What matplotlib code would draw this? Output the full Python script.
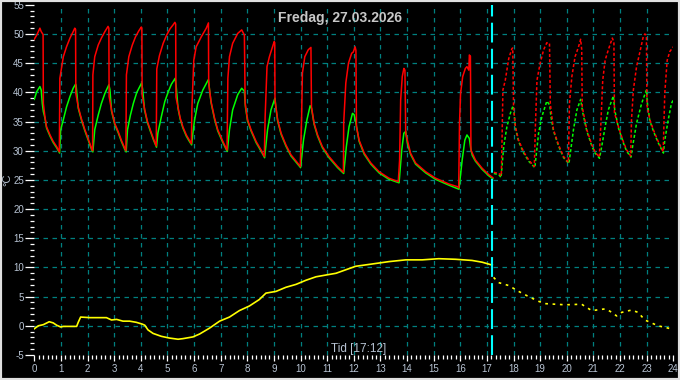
import matplotlib
matplotlib.use("Agg")
import matplotlib.pyplot as plt
from matplotlib.patches import Rectangle
from matplotlib.ticker import MultipleLocator

# ---- data (hours of day, deg C) ----
title_text = "Fredag, 27.03.2026"
time_text = "Tid [17:12]"
now_hour = 17.2

x_ticks = list(range(0, 25))
y_ticks = list(range(-5, 56, 5))

# red: measured until now
red_t = [0.00, 0.09, 0.21, 0.26, 0.33, 0.34, 0.40, 0.46, 0.59, 0.71, 0.84, 0.94,
         0.96, 1.03, 1.09, 1.21, 1.34, 1.46, 1.52, 1.55, 1.56, 1.65, 1.78, 1.90, 2.02, 2.15, 2.19,
         2.20, 2.27, 2.40, 2.52, 2.65, 2.77, 2.80, 2.81, 2.90, 3.02, 3.15, 3.27, 3.40, 3.44,
         3.46, 3.55, 3.68, 3.80, 3.92, 4.02, 4.04, 4.05, 4.14, 4.25, 4.37, 4.48, 4.58,
         4.60, 4.70, 4.84, 4.97, 5.10, 5.22, 5.28, 5.31, 5.32, 5.40, 5.48, 5.58, 5.71, 5.81, 5.90,
         5.92, 5.99, 6.08, 6.27, 6.46, 6.54, 6.55, 6.64, 6.77, 6.89, 7.08, 7.21, 7.24,
         7.27, 7.33, 7.45, 7.64, 7.79, 7.89, 7.92, 8.01, 8.14, 8.33, 8.52, 8.64,
         8.67, 8.74, 8.83, 8.95, 9.01, 9.03, 9.04, 9.14, 9.27, 9.45, 9.64, 9.89, 9.99,
         10.04, 10.07, 10.16, 10.29, 10.39, 10.41, 10.51, 10.64, 10.82, 11.07, 11.39, 11.61,
         11.62, 11.70, 11.80, 11.92, 11.98, 12.05, 12.08, 12.10, 12.20, 12.39, 12.64, 12.95, 13.32, 13.67,
         13.72, 13.76, 13.82, 13.88, 13.92, 13.95, 14.13, 14.32, 14.70, 15.07, 15.57, 15.92, 15.94,
         15.97, 16.01, 16.09, 16.19, 16.25, 16.32, 16.34, 16.38, 16.40, 16.57, 16.82, 17.07, 17.22]
red_v = [49.1, 49.8, 51.0, 50.4, 49.9, 38.1, 35.8, 34.1, 32.7, 31.6, 30.7, 29.8,
         42.4, 44.4, 46.1, 47.8, 49.3, 50.4, 51.0, 50.8, 39.8, 37.5, 35.3, 33.6, 32.1, 30.4, 30.0,
         43.0, 46.1, 48.1, 49.3, 50.4, 51.3, 51.0, 39.3, 37.0, 34.7, 33.3, 31.8, 30.4, 30.0,
         43.0, 46.1, 48.1, 49.5, 50.5, 51.2, 51.0, 39.5, 37.2, 35.0, 33.4, 32.0, 30.8,
         44.0, 46.3, 48.4, 49.8, 50.9, 51.6, 52.0, 51.7, 39.2, 37.4, 35.6, 34.1, 32.7, 31.9, 31.2,
         37.3, 45.5, 47.8, 49.5, 51.0, 51.9, 41.6, 38.4, 35.6, 33.6, 31.6, 30.4, 30.1,
         42.4, 46.1, 48.4, 50.1, 50.7, 49.8, 38.1, 35.3, 33.6, 31.6, 30.1, 29.0,
         35.8, 44.4, 46.1, 47.8, 48.7, 48.5, 38.7, 35.3, 33.0, 31.0, 29.3, 27.9, 27.3,
         35.8, 43.3, 46.1, 47.3, 47.7, 37.5, 34.7, 32.7, 30.7, 29.0, 27.3, 26.3,
         34.7, 41.6, 45.0, 46.7, 46.9, 47.8, 47.2, 34.1, 31.8, 29.6, 27.9, 26.4, 25.3, 24.7,
         28.4, 38.7, 42.7, 44.1, 43.8, 33.0, 29.6, 27.9, 26.4, 25.3, 24.3, 23.8, 23.6,
         34.7, 39.8, 42.7, 44.1, 44.4, 43.8, 46.4, 46.2, 30.1, 28.4, 27.0, 25.9, 25.4]

# green: measured until now
green_t = [0.00, 0.09, 0.21, 0.26, 0.30, 0.34, 0.40, 0.46, 0.59, 0.71, 0.84, 0.95,
           0.99, 1.09, 1.21, 1.34, 1.46, 1.55, 1.57, 1.65, 1.78, 1.90, 2.02, 2.15, 2.20,
           2.27, 2.40, 2.52, 2.65, 2.80, 2.84, 2.90, 3.02, 3.15, 3.27, 3.40, 3.45,
           3.50, 3.61, 3.72, 3.85, 4.03, 4.07, 4.14, 4.25, 4.37, 4.48, 4.59,
           4.64, 4.77, 4.90, 5.04, 5.15, 5.29, 5.33, 5.40, 5.48, 5.58, 5.71, 5.81, 5.91,
           5.95, 6.02, 6.14, 6.33, 6.54, 6.58, 6.64, 6.77, 6.89, 7.08, 7.21, 7.25,
           7.33, 7.45, 7.64, 7.79, 7.89, 7.93, 8.01, 8.14, 8.33, 8.52, 8.65,
           8.76, 8.89, 9.04, 9.07, 9.14, 9.27, 9.45, 9.64, 9.89, 10.00,
           10.11, 10.24, 10.36, 10.41, 10.51, 10.64, 10.82, 11.07, 11.39, 11.62,
           11.72, 11.82, 11.95, 12.01, 12.07, 12.20, 12.39, 12.64, 12.95, 13.32, 13.70,
           13.80, 13.88, 13.95, 14.01, 14.13, 14.32, 14.70, 15.07, 15.57, 15.95,
           16.07, 16.17, 16.25, 16.34, 16.39, 16.45, 16.57, 16.82, 17.07, 17.22]
green_v = [38.8, 40.1, 41.0, 40.4, 38.1, 36.7, 35.6, 33.9, 32.5, 31.4, 30.5, 29.6,
           33.6, 35.3, 37.5, 39.3, 40.7, 41.4, 41.2, 37.3, 35.1, 33.4, 31.9, 30.2, 29.8,
           33.6, 36.1, 38.1, 39.8, 41.3, 40.5, 36.8, 34.5, 33.1, 31.6, 30.2, 29.8,
           33.6, 36.1, 38.1, 40.0, 41.6, 40.5, 37.0, 34.8, 33.2, 31.8, 30.6,
           33.0, 35.8, 38.4, 40.2, 41.4, 42.4, 41.0, 37.2, 35.4, 33.9, 32.5, 31.7, 31.0,
           32.8, 35.3, 38.1, 40.4, 42.2, 40.5, 38.2, 35.4, 33.4, 31.4, 30.2, 29.9,
           33.6, 37.0, 39.6, 40.7, 40.2, 37.5, 35.1, 33.4, 31.4, 29.9, 28.8,
           33.6, 37.0, 39.0, 37.5, 35.1, 32.8, 30.8, 29.1, 27.7, 27.1,
           31.8, 35.3, 37.7, 37.3, 34.5, 32.5, 30.5, 28.8, 27.1, 26.1,
           30.7, 34.1, 36.4, 36.2, 35.0, 31.6, 29.4, 27.7, 26.2, 25.1, 24.5,
           30.1, 33.0, 33.3, 31.3, 29.4, 27.7, 26.2, 25.1, 24.1, 23.4,
           28.4, 31.8, 32.7, 32.1, 30.4, 29.2, 28.2, 26.8, 25.7, 25.2]

# red / green: forecast after now
red_fc_t = [17.26, 17.45, 17.54, 17.57, 17.60, 17.69, 17.82, 17.94, 17.97, 18.00,
            18.07, 18.19, 18.38, 18.57, 18.78,
            18.82, 18.88, 19.00, 19.13, 19.25, 19.35, 19.38, 19.50, 19.69, 19.88, 20.06,
            20.10, 20.19, 20.31, 20.44, 20.52, 20.56, 20.58, 20.75, 20.94, 21.06, 21.22,
            21.27, 21.35, 21.44, 21.56, 21.71, 21.77, 21.79, 21.94, 22.12, 22.25, 22.40,
            22.43, 22.50, 22.62, 22.75, 22.87, 22.93, 22.99, 23.01, 23.12, 23.25, 23.43, 23.62,
            23.68, 23.77, 23.87, 24.00]
red_fc_v = [26.3, 26.1, 25.7, 32.4, 40.4, 42.1, 45.8, 47.5, 47.6, 37.5,
            34.1, 31.8, 29.8, 28.4, 27.3,
            34.1, 42.1, 45.0, 47.3, 48.5, 48.4, 38.1, 33.6, 31.0, 29.0, 28.0,
            38.1, 42.7, 46.1, 47.8, 49.1, 47.3, 37.5, 33.6, 31.0, 29.8, 28.9,
            33.6, 42.1, 45.5, 47.3, 49.3, 48.6, 36.5, 34.1, 31.6, 30.1, 29.1,
            35.3, 40.4, 44.4, 47.0, 49.5, 50.0, 49.8, 37.8, 35.3, 33.6, 31.6, 29.8,
            39.9, 45.5, 47.0, 47.8]
green_fc_t = [17.26, 17.45, 17.53, 17.63, 17.75, 17.88, 17.98, 18.02,
              18.07, 18.19, 18.38, 18.57, 18.80,
              18.94, 19.06, 19.25, 19.36, 19.40, 19.50, 19.69, 19.88, 20.08,
              20.25, 20.38, 20.52, 20.60, 20.75, 20.94, 21.06, 21.23,
              21.31, 21.44, 21.56, 21.75, 21.80, 21.94, 22.12, 22.25, 22.41,
              22.47, 22.62, 22.81, 22.99, 23.03, 23.12, 23.25, 23.43, 23.63,
              23.68, 23.81, 23.93, 24.00]
green_fc_v = [26.1, 25.9, 25.4, 30.7, 34.1, 36.4, 37.7, 36.5,
              33.9, 31.6, 29.6, 28.2, 27.1,
              33.0, 35.8, 38.5, 37.8, 36.0, 33.4, 30.8, 28.8, 27.8,
              33.6, 37.0, 38.8, 36.5, 33.4, 30.8, 29.6, 28.7,
              30.7, 34.1, 37.0, 39.4, 37.0, 33.9, 31.4, 29.9, 28.9,
              30.7, 34.7, 38.1, 40.4, 38.0, 35.1, 33.4, 31.4, 29.6,
              31.8, 35.3, 38.1, 38.7]

# yellow: outdoor temperature
out_t = [0.00, 0.15, 0.34, 0.56, 0.71, 0.84, 0.99, 1.09, 1.59, 1.65, 1.74, 2.09, 2.71,
         2.90, 3.09, 3.33, 3.58, 3.83, 4.05, 4.15, 4.27, 4.46, 4.77, 5.08, 5.40, 5.58,
         5.96, 6.21, 6.58, 6.96, 7.33, 7.70, 8.08, 8.45, 8.70, 9.08, 9.45, 9.83, 10.20,
         10.58, 10.95, 11.33, 11.76, 12.07, 12.70, 13.32, 13.95, 14.57, 15.19, 15.82,
         16.44, 16.82, 17.20]
out_v = [-0.5, 0.0, 0.2, 0.7, 0.5, 0.1, -0.2, -0.1, -0.1, 0.6, 1.5, 1.4, 1.4,
         1.0, 1.1, 0.8, 0.8, 0.6, 0.3, 0.1, -0.7, -1.3, -1.8, -2.1, -2.3, -2.2,
         -1.9, -1.4, -0.4, 0.8, 1.5, 2.6, 3.4, 4.5, 5.6, 5.9, 6.6, 7.1, 7.8,
         8.4, 8.7, 9.0, 9.7, 10.2, 10.6, 11.0, 11.3, 11.3, 11.5, 11.4,
         11.2, 10.9, 10.4]
out_fc_t = [17.25, 17.44, 17.82, 18.19, 18.57, 18.94, 19.19, 19.94, 20.56, 20.69,
            20.94, 21.44, 21.62, 21.87, 22.06, 22.43, 22.68, 22.93, 23.43, 24.00]
out_fc_v = [8.3, 7.4, 6.9, 5.9, 5.0, 4.2, 3.8, 3.6, 3.7, 3.3,
            2.6, 2.9, 2.5, 1.7, 2.3, 2.7, 2.3, 1.0, 0.0, -0.6]

# ---- style ----
plt.rcParams['font.family'] = ['Liberation Sans', 'DejaVu Sans']
plt.rcParams['axes.unicode_minus'] = False

label_col = '#b8c4d4'
grid_col = '#008080'

fig = plt.figure(figsize=(6.8, 3.8), dpi=100, facecolor='black')
ax = fig.add_axes([34.3 / 680, 1 - 355 / 380, 639 / 680, 350.2 / 380])
ax.set_facecolor('black')

# grid on interior ticks only
for h in x_ticks[1:-1]:
    ax.axvline(h, color=grid_col, lw=0.9, ls=(0, (3.6, 3.6)), zorder=1)
for v in y_ticks[1:-1]:
    ax.axhline(v, color=grid_col, lw=0.9, ls=(0, (3.6, 3.6)), zorder=1)

# measured
ax.plot(out_t, out_v, color='#ffff00', lw=1.2, zorder=3)
ax.plot(green_t, green_v, color='#00ff00', lw=1.1, zorder=3)
ax.plot(red_t, red_v, color='#ff0000', lw=1.1, zorder=4)

# forecast
ax.plot(out_fc_t, out_fc_v, color='#ffff00', lw=1.2, ls=(0, (1.6, 2.8)), zorder=3)
ax.plot(green_fc_t, green_fc_v, color='#00ff00', lw=1.1, ls=(0, (2.0, 1.4)), zorder=3)
ax.plot(red_fc_t, red_fc_v, color='#ff0000', lw=1.1, ls=(0, (2.0, 1.4)), zorder=4)

# now marker
ax.axvline(now_hour, color='#00ffff', lw=1.5, ls=(0, (9.5, 3)), zorder=5)

ax.set_xlim(0, 24)
ax.set_ylim(-5, 55)
ax.set_xticks(x_ticks)
ax.set_yticks(y_ticks)
ax.xaxis.set_minor_locator(MultipleLocator(1 / 6))
ax.yaxis.set_minor_locator(MultipleLocator(1))
for s in ax.spines.values():
    s.set_visible(False)

ax.tick_params(axis='y', which='major', length=6.5, width=0.9, color='white',
               pad=1, labelsize=7, labelcolor=label_col)
ax.tick_params(axis='y', which='minor', length=2.6, width=0.9, color='white')
ax.tick_params(axis='x', which='major', length=4.5, width=0.9, color='white',
               pad=2, labelsize=7, labelcolor=label_col)
ax.tick_params(axis='x', which='minor', length=3.2, width=0.9, color='white')

fig.text(340.5 / 680, 1 - 18.3 / 380, title_text, ha='center', va='center',
         fontsize=10, fontweight='bold', color='#c8c8c8')
fig.text(359 / 680, 1 - 349 / 380, time_text, ha='center', va='center',
         fontsize=8.5, color=label_col)
fig.text(7 / 680, 1 - 180 / 380, '°C', ha='center', va='center', rotation=90,
         fontsize=8, color=label_col)

# outer frame
fig.patches.append(Rectangle((0, 0), 1, 1, transform=fig.transFigure, fill=False,
                             edgecolor='#e0e0e0', lw=3))

fig.savefig('out.png', dpi=100, facecolor='black')
